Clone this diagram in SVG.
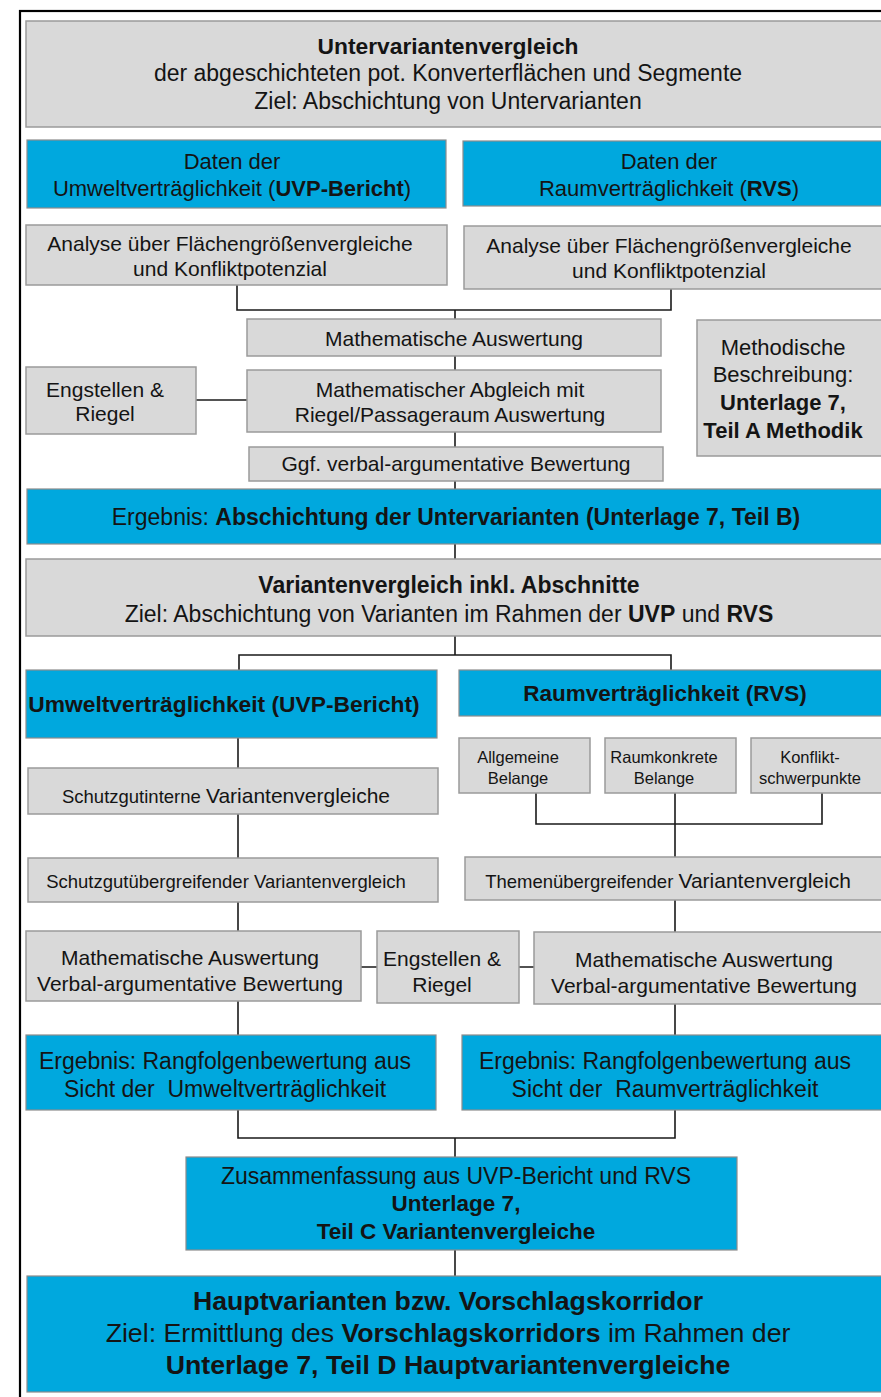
<svg xmlns="http://www.w3.org/2000/svg" width="881" height="1397" viewBox="0 0 881 1397">
<style>
text{font-family:"Liberation Sans",Arial,sans-serif;fill:#141414;text-anchor:middle}
.g{fill:#d9d9d9;stroke:#9a9a9a;stroke-width:1.5}
.b{fill:#00a8de;stroke:#8c8c8c;stroke-width:1.2}
.c{fill:none;stroke:#1a1a1a;stroke-width:1.6}
.bd{font-weight:bold}
</style>
<rect x="0" y="0" width="881" height="1397" fill="#fff"/>
<rect x="20" y="11" width="900" height="1420" fill="none" stroke="#000" stroke-width="2.2"/>

<g id="connectors">
<path class="c" d="M237 285V310H671V289M455 310V319"/>
<path class="c" d="M455 356V370"/>
<path class="c" d="M196 400H247"/>
<path class="c" d="M455 432V447"/>
<path class="c" d="M455 481V489"/>
<path class="c" d="M455 544V559"/>
<path class="c" d="M455 636V655M239 670V655H671V670"/>
<path class="c" d="M238 738V768"/>
<path class="c" d="M536 793V824H822V793M675 793V858"/>
<path class="c" d="M238 814V858"/>
<path class="c" d="M238 902V931M675 900V932"/>
<path class="c" d="M361 967H377M519 967H534"/>
<path class="c" d="M238 1001V1035M675 1004V1035"/>
<path class="c" d="M238 1110V1138H675V1110M455 1138V1157"/>
<path class="c" d="M455 1250V1276"/>
</g>

<g id="n-untervariantenvergleich">
<rect class="g" x="26" y="21" width="880" height="106"/>
<text x="448" y="54" font-size="22.8" class="bd">Untervariantenvergleich</text>
<text x="448" y="81" font-size="23">der abgeschichteten pot. Konverterflächen und Segmente</text>
<text x="448" y="109" font-size="23">Ziel: Abschichtung von Untervarianten</text>
</g>

<g id="n-daten-uvp">
<rect class="b" x="27" y="140" width="419" height="68"/>
<text x="232" y="169" font-size="22">Daten der</text>
<text x="232" y="196" font-size="22">Umweltverträglichkeit (<tspan class="bd">UVP-Bericht</tspan>)</text>
</g>
<g id="n-daten-rvs">
<rect class="b" x="463" y="141" width="440" height="65"/>
<text x="669" y="169" font-size="22">Daten der</text>
<text x="669" y="196" font-size="22">Raumverträglichkeit (<tspan class="bd">RVS</tspan>)</text>
</g>

<g id="n-analyse-uvp">
<rect class="g" x="26" y="225" width="421" height="60"/>
<text x="230" y="251" font-size="21">Analyse über Flächengrößenvergleiche</text>
<text x="230" y="276" font-size="21">und Konfliktpotenzial</text>
</g>
<g id="n-analyse-rvs">
<rect class="g" x="464" y="226" width="440" height="63"/>
<text x="669" y="253" font-size="21">Analyse über Flächengrößenvergleiche</text>
<text x="669" y="278" font-size="21">und Konfliktpotenzial</text>
</g>

<g id="n-math-auswertung">
<rect class="g" x="247" y="319" width="414" height="37"/>
<text x="454" y="346" font-size="21">Mathematische Auswertung</text>
</g>
<g id="n-math-abgleich">
<rect class="g" x="247" y="370" width="414" height="62"/>
<text x="450" y="397" font-size="21">Mathematischer Abgleich mit</text>
<text x="450" y="422" font-size="21">Riegel/Passageraum Auswertung</text>
</g>
<g id="n-engstellen-1">
<rect class="g" x="26" y="367" width="170" height="67"/>
<text x="105" y="397" font-size="21">Engstellen &amp;</text>
<text x="105" y="421" font-size="21">Riegel</text>
</g>
<g id="n-ggf">
<rect class="g" x="249" y="447" width="414" height="34"/>
<text x="456" y="471" font-size="21">Ggf. verbal-argumentative Bewertung</text>
</g>
<g id="n-methodische">
<rect class="g" x="697" y="320" width="210" height="136"/>
<text x="783" y="355" font-size="22">Methodische</text>
<text x="783" y="382" font-size="22">Beschreibung:</text>
<text x="783" y="410" font-size="22" class="bd">Unterlage 7,</text>
<text x="783" y="438" font-size="22" class="bd">Teil A Methodik</text>
</g>

<g id="n-ergebnis-abschichtung">
<rect class="b" x="27" y="489" width="880" height="55"/>
<text x="456" y="525" font-size="23">Ergebnis: <tspan class="bd">Abschichtung der Untervarianten (Unterlage 7, Teil B)</tspan></text>
</g>

<g id="n-variantenvergleich">
<rect class="g" x="26" y="559" width="880" height="77"/>
<text x="449" y="593" font-size="23" class="bd">Variantenvergleich inkl. Abschnitte</text>
<text x="449" y="622" font-size="23">Ziel: Abschichtung von Varianten im Rahmen der <tspan class="bd">UVP</tspan> und <tspan class="bd">RVS</tspan></text>
</g>

<g id="n-uvp">
<rect class="b" x="26" y="670" width="411" height="68"/>
<text x="224" y="712" font-size="22.8" class="bd">Umweltverträglichkeit (UVP-Bericht)</text>
</g>
<g id="n-rvs">
<rect class="b" x="459" y="670" width="440" height="46"/>
<text x="665" y="701" font-size="22.5" class="bd">Raumverträglichkeit (RVS)</text>
</g>

<g id="n-schutzgutinterne">
<rect class="g" x="28" y="768" width="410" height="46"/>
<text x="226" y="803"><tspan font-size="18.5">Schutzgutinterne </tspan><tspan font-size="21">Variantenvergleiche</tspan></text>
</g>

<g id="n-allgemeine">
<rect class="g" x="459" y="738" width="131" height="55"/>
<text x="518" y="763" font-size="16.5">Allgemeine</text>
<text x="518" y="784" font-size="16.5">Belange</text>
</g>
<g id="n-raumkonkrete">
<rect class="g" x="605" y="738" width="131" height="55"/>
<text x="664" y="763" font-size="16.5">Raumkonkrete</text>
<text x="664" y="784" font-size="16.5">Belange</text>
</g>
<g id="n-konflikt">
<rect class="g" x="751" y="738" width="131" height="55"/>
<text x="810" y="763" font-size="16.5">Konflikt-</text>
<text x="810" y="784" font-size="16.5">schwerpunkte</text>
</g>

<g id="n-schutzgutuebergreifend">
<rect class="g" x="28" y="858" width="410" height="44"/>
<text x="226" y="888" font-size="18.5">Schutzgutübergreifender Variantenvergleich</text>
</g>
<g id="n-themenuebergreifend">
<rect class="g" x="465" y="857" width="440" height="43"/>
<text x="668" y="888"><tspan font-size="18.5">Themenübergreifender </tspan><tspan font-size="21">Variantenvergleich</tspan></text>
</g>

<g id="n-math-uvp">
<rect class="g" x="26" y="931" width="335" height="70"/>
<text x="190" y="965" font-size="21">Mathematische Auswertung</text>
<text x="190" y="991" font-size="21">Verbal-argumentative Bewertung</text>
</g>
<g id="n-engstellen-2">
<rect class="g" x="377" y="931" width="142" height="72"/>
<text x="442" y="966" font-size="21">Engstellen &amp;</text>
<text x="442" y="992" font-size="21">Riegel</text>
</g>
<g id="n-math-rvs">
<rect class="g" x="534" y="932" width="370" height="72"/>
<text x="704" y="967" font-size="21">Mathematische Auswertung</text>
<text x="704" y="993" font-size="21">Verbal-argumentative Bewertung</text>
</g>

<g id="n-ergebnis-uvp">
<rect class="b" x="26" y="1035" width="410" height="75"/>
<text x="225" y="1069" font-size="23">Ergebnis: Rangfolgenbewertung aus</text>
<text x="225" y="1097" font-size="23" xml:space="preserve">Sicht der  Umweltverträglichkeit</text>
</g>
<g id="n-ergebnis-rvs">
<rect class="b" x="462" y="1035" width="440" height="75"/>
<text x="665" y="1069" font-size="23">Ergebnis: Rangfolgenbewertung aus</text>
<text x="665" y="1097" font-size="23" xml:space="preserve">Sicht der  Raumverträglichkeit</text>
</g>

<g id="n-zusammenfassung">
<rect class="b" x="186" y="1157" width="551" height="93"/>
<text x="456" y="1184" font-size="23">Zusammenfassung aus UVP-Bericht und RVS</text>
<text x="456" y="1211" font-size="22.5" class="bd">Unterlage 7,</text>
<text x="456" y="1239" font-size="22.5" class="bd">Teil C Variantenvergleiche</text>
</g>

<g id="n-hauptvarianten">
<rect class="b" x="27" y="1276" width="880" height="116"/>
<text x="448" y="1310" font-size="26.7" class="bd">Hauptvarianten bzw. Vorschlagskorridor</text>
<text x="448" y="1342" font-size="26.7">Ziel: Ermittlung des <tspan class="bd">Vorschlagskorridors</tspan> im Rahmen der</text>
<text x="448" y="1374" font-size="26.7" class="bd">Unterlage 7, Teil D Hauptvariantenvergleiche</text>
</g>
</svg>
